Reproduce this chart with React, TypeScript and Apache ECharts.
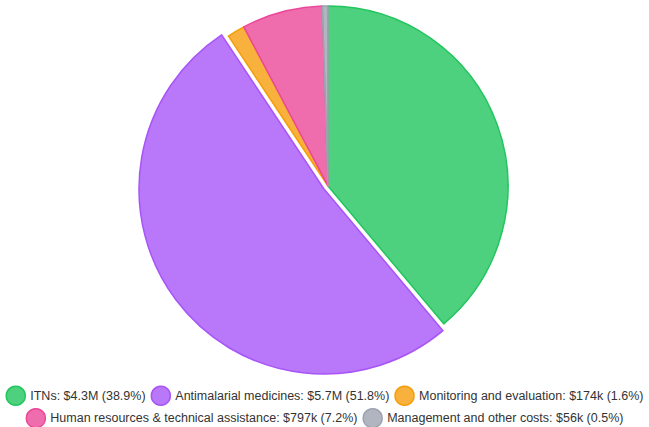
import React, { useEffect, useRef } from "react";
import * as echarts from "echarts";

const categories = [
  "ITNs",
  "Antimalarial medicines",
  "Monitoring and evaluation",
  "Human resources & technical assistance",
  "Management and other costs",
];
const values = [4280000, 5700000, 174000, 797000, 56000];
const baseColors = ["#22c55e", "#a855f7", "#f59e0b", "#ec4899", "#9ca3af"];
const legendRow1 = categories.slice(0, 3);
const legendRow2 = categories.slice(3);
const highlightedIndex = 1;

function hexToRgba(hex: string, a: number) {
  const n = parseInt(hex.slice(1), 16);
  return `rgba(${(n >> 16) & 255},${(n >> 8) & 255},${n & 255},${a})`;
}

function fmtMoney(v: number) {
  if (v >= 1e6) return `$${(v / 1e6).toFixed(1)}M`;
  return `$${Math.round(v / 1e3)}k`;
}

export default function App() {
  const ref = useRef<HTMLDivElement>(null);
  useEffect(() => {
    if (!ref.current) return;
    const chart = echarts.init(ref.current, undefined, { renderer: "svg" });
    const total = values.reduce((a, b) => a + b, 0);
    const labels: Record<string, string> = {};
    categories.forEach((c, i) => {
      labels[c] = `${c}: ${fmtMoney(values[i])} (${((values[i] / total) * 100).toFixed(1)}%)`;
    });
    const styleOf = (i: number) => ({
      color: hexToRgba(baseColors[i], 0.8),
      borderColor: baseColors[i],
      borderWidth: 1.5,
    });
    const hidden = { color: "rgba(0,0,0,0)", borderWidth: 0, borderColor: "rgba(0,0,0,0)" };
    const legendBase = {
      left: "center",
      padding: 0,
      itemWidth: 19,
      itemHeight: 19,
      itemGap: 5,
      icon: "circle",
      textStyle: { fontSize: 12.5, color: "#333", fontFamily: "Liberation Sans, Arial, sans-serif" },
      formatter: (name: string) => labels[name],
    };
    const legendData = (names: string[]) =>
      names.map((n) => ({ name: n, itemStyle: styleOf(categories.indexOf(n)) }));
    const pieBase = {
      type: "pie",
      center: [328, 186],
      startAngle: 90,
      clockwise: true,
      silent: true,
      label: { show: false },
      labelLine: { show: false },
      emphasis: { disabled: true },
    };
    chart.setOption({
      animation: false,
      legend: [
        { ...legendBase, top: 385.5, data: legendData(legendRow1) },
        { ...legendBase, top: 408, data: legendData(legendRow2) },
      ],
      series: [
        {
          ...pieBase,
          radius: 180,
          data: categories.map((c, i) => ({
            name: c,
            value: values[i],
            itemStyle: i === highlightedIndex ? hidden : styleOf(i),
          })),
        },
        {
          ...pieBase,
          radius: 185,
          selectedMode: "single",
          selectedOffset: 5,
          data: categories.map((c, i) => ({
            name: c,
            value: values[i],
            selected: i === highlightedIndex,
            itemStyle: i === highlightedIndex ? styleOf(i) : hidden,
          })),
        },
      ],
    });
    return () => chart.dispose();
  }, []);
  return (
    <div
      ref={ref}
      style={{ position: "fixed", left: 0, top: 0, width: 649, height: 427, background: "#fff" }}
    />
  );
}
